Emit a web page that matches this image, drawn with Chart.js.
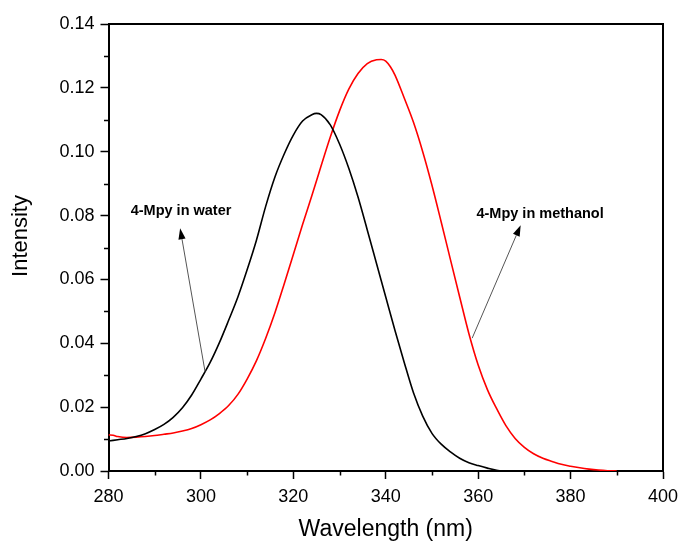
<!DOCTYPE html>
<html>
<head>
<meta charset="utf-8">
<script src="https://cdn.jsdelivr.net/npm/chart.js@4/dist/chart.umd.min.js"></script>
<style>
  html, body { margin: 0; padding: 0; background: #fff; }
  canvas { display: block; }
</style>
</head>
<body>
<canvas id="c" width="680" height="542"></canvas>
<script>
// ---- Data ----
const waterWavelength = [280,282,284,286,288,290,292,294,296,298,300,302,304,306,308,310,312,314,316,318,320,322,324,325,326,328,330,332,334,336,338,340,342,344,346,348,350,352,354,356,358,360,362,364,365];
const waterIntensity  = [0.0094,0.0098,0.0102,0.0108,0.0117,0.0130,0.0146,0.0168,0.0198,0.0238,0.0288,0.0340,0.0402,0.0472,0.0545,0.0630,0.0722,0.0828,0.0920,0.0992,0.1052,0.1096,0.1116,0.1120,0.1116,0.1084,0.1024,0.0948,0.0858,0.0755,0.0650,0.0545,0.0440,0.0340,0.0245,0.0172,0.0118,0.0084,0.0060,0.0040,0.0026,0.0017,0.0009,0.0002,0.0000];

const methanolWavelength = [280,281,282,284,286,288,290,292,294,296,298,300,302,304,306,308,310,312,314,316,318,320,322,324,326,328,330,332,334,336,338,339,340,341,342,344,346,348,350,352,354,356,358,360,362,364,366,368,370,372,374,376,378,380,382,384,386,388,390];
const methanolIntensity  = [0.0113,0.0112,0.0108,0.0105,0.0106,0.0108,0.0111,0.0115,0.0119,0.0125,0.0133,0.0145,0.0160,0.0180,0.0205,0.0240,0.0288,0.0345,0.0415,0.0495,0.0585,0.0678,0.0772,0.0862,0.0955,0.1046,0.1128,0.1196,0.1245,0.1276,0.1288,0.1289,0.1284,0.1266,0.1240,0.1168,0.1092,0.1000,0.0895,0.0780,0.0662,0.0545,0.0430,0.0332,0.0255,0.0195,0.0142,0.0102,0.0074,0.0054,0.0040,0.0030,0.0021,0.0015,0.0010,0.0006,0.0003,0.0001,0.0000];

const seriesNames = ['4-Mpy in water', '4-Mpy in methanol'];
const xTitle = 'Wavelength (nm)';
const yTitle = 'Intensity';

const xTicks = [280,300,320,340,360,380,400];
const xMinorTicks = [290,310,330,350,370,390];
const yTicks = [0,0.02,0.04,0.06,0.08,0.10,0.12,0.14];
const yTickLabels = ['0.00','0.02','0.04','0.06','0.08','0.10','0.12','0.14'];
const yMinorTicks = [0.01,0.03,0.05,0.07,0.09,0.11,0.13];

// annotation anchors (data coords): label centre, arrow tail, arrow tip
const annotations = [
  { text: seriesNames[0], label: [295.7, 0.0815], tail: [300.9, 0.0311], tip: [295.5, 0.0760] },
  { text: seriesNames[1], label: [373.4, 0.0805], tail: [358.7, 0.0416], tip: [369.2, 0.0770] }
];

const FONT = "'Liberation Sans', Arial, Helvetica, sans-serif";

const extrasPlugin = {
  id: 'extras',
  afterDraw(chart) {
    const { ctx, chartArea: a, scales: { x, y } } = chart;
    ctx.save();
    // frame
    ctx.strokeStyle = '#000';
    ctx.lineWidth = 2;
    ctx.beginPath();
    ctx.moveTo(a.left, a.top);
    ctx.lineTo(a.right, a.top);
    ctx.lineTo(a.right, a.bottom);
    ctx.stroke();
    // minor ticks
    ctx.lineWidth = 1.5;
    ctx.beginPath();
    xMinorTicks.forEach(v => {
      const px = Math.round(x.getPixelForValue(v)) + 0.5;
      ctx.moveTo(px, a.bottom);
      ctx.lineTo(px, a.bottom + 4.5);
    });
    yMinorTicks.forEach(v => {
      const py = Math.round(y.getPixelForValue(v)) + 0.5;
      ctx.moveTo(a.left, py);
      ctx.lineTo(a.left - 4.5, py);
    });
    ctx.stroke();
    // y axis title (slightly above the plot centre, as in the reference)
    ctx.save();
    ctx.translate(21, 236);
    ctx.rotate(-Math.PI / 2);
    ctx.fillStyle = '#000';
    ctx.font = "22px " + FONT;
    ctx.textAlign = 'center';
    ctx.textBaseline = 'middle';
    ctx.fillText(yTitle, 0, 0);
    ctx.restore();
    // annotations
    annotations.forEach(an => {
      const tx = x.getPixelForValue(an.tail[0]), ty = y.getPixelForValue(an.tail[1]);
      const hx = x.getPixelForValue(an.tip[0]), hy = y.getPixelForValue(an.tip[1]);
      const ang = Math.atan2(hy - ty, hx - tx);
      const headLen = 11, headW = 3.6;
      const bx = hx - headLen * Math.cos(ang), by = hy - headLen * Math.sin(ang);
      ctx.strokeStyle = '#555';
      ctx.lineWidth = 1;
      ctx.beginPath();
      ctx.moveTo(tx, ty);
      ctx.lineTo(bx, by);
      ctx.stroke();
      ctx.fillStyle = '#000';
      ctx.beginPath();
      ctx.moveTo(hx, hy);
      ctx.lineTo(bx + headW * Math.sin(ang), by - headW * Math.cos(ang));
      ctx.lineTo(bx - headW * Math.sin(ang), by + headW * Math.cos(ang));
      ctx.closePath();
      ctx.fill();
      ctx.font = "bold 14.5px " + FONT;
      ctx.textAlign = 'center';
      ctx.textBaseline = 'middle';
      ctx.fillText(an.text, x.getPixelForValue(an.label[0]), y.getPixelForValue(an.label[1]));
    });
    ctx.restore();
  }
};

const tickFont = { family: FONT, size: 18 };
const titleFont = { family: FONT, size: 23, lineHeight: 1 };

new Chart(document.getElementById('c'), {
  type: 'line',
  data: {
    datasets: [
      {
        label: seriesNames[0],
        data: waterWavelength.map((w, i) => ({ x: w, y: waterIntensity[i] })),
        borderColor: '#000000',
        borderWidth: 1.6,
        pointRadius: 0,
        cubicInterpolationMode: 'monotone',
        fill: false
      },
      {
        label: seriesNames[1],
        data: methanolWavelength.map((w, i) => ({ x: w, y: methanolIntensity[i] })),
        borderColor: '#ff0000',
        borderWidth: 1.6,
        pointRadius: 0,
        cubicInterpolationMode: 'monotone',
        fill: false
      }
    ]
  },
  options: {
    responsive: false,
    animation: false,
    layout: { padding: { left: 0, top: 24, right: 17, bottom: 0 } },
    plugins: { legend: { display: false }, tooltip: { enabled: false } },
    scales: {
      x: {
        type: 'linear',
        min: 280, max: 400,
        afterBuildTicks: s => { s.ticks = xTicks.map(v => ({ value: v })); },
        afterFit: s => { s.height = 71; s.paddingRight = 0; s.paddingLeft = 0; },
        ticks: { font: tickFont, color: '#000', padding: 7, maxRotation: 0, autoSkip: false, callback: v => String(v) },
        grid: { drawOnChartArea: false, tickLength: 8, tickColor: '#000', tickWidth: 1.5 },
        border: { color: '#000', width: 2 },
        title: { display: true, text: xTitle, font: titleFont, color: '#000', padding: { top: 0, bottom: 1 } }
      },
      y: {
        type: 'linear',
        min: 0, max: 0.14,
        afterBuildTicks: s => { s.ticks = yTicks.map(v => ({ value: v })); },
        afterFit: s => { s.width = 108.5; s.paddingTop = 0; s.paddingBottom = 0; },
        ticks: { font: tickFont, color: '#000', padding: 6, autoSkip: false,
                 callback: (v, i) => yTickLabels[i] },
        grid: { drawOnChartArea: false, tickLength: 8, tickColor: '#000', tickWidth: 1.5 },
        border: { color: '#000', width: 2 },
        title: { display: false }
      }
    }
  },
  plugins: [extrasPlugin]
});
</script>
</body>
</html>
